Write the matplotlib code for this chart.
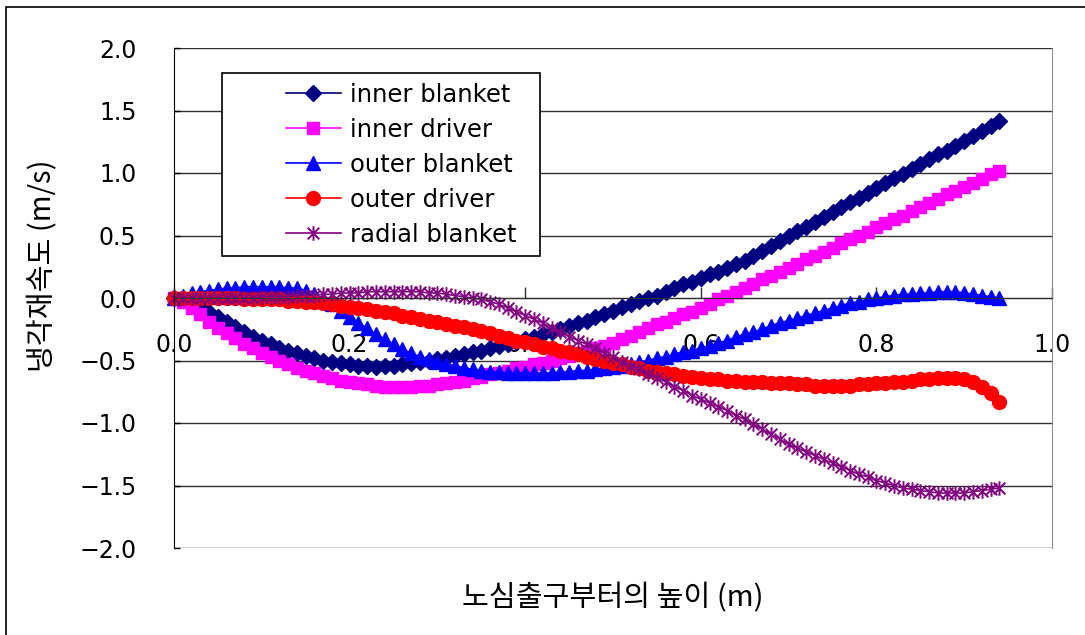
import numpy as np
import matplotlib
matplotlib.use('Agg')
import matplotlib.pyplot as plt
from matplotlib.path import Path
from matplotlib.patches import Rectangle

KFONT = ['Noto Sans CJK KR', 'DejaVu Sans']

# heights above core outlet (m), one sample every 0.01 m
height = np.round(np.arange(95) * 0.01, 2)

inner_blanket = [
    0.00, -0.01, -0.04, -0.07, -0.11, -0.15, -0.19, -0.23, -0.27, -0.31,
    -0.34, -0.37, -0.40, -0.42, -0.44, -0.46, -0.48, -0.50, -0.51, -0.52,
    -0.53, -0.54, -0.54, -0.55, -0.54, -0.54, -0.53, -0.52, -0.51, -0.50,
    -0.49, -0.48, -0.46, -0.45, -0.43, -0.42, -0.40, -0.38, -0.37, -0.35,
    -0.33, -0.31, -0.29, -0.27, -0.25, -0.22, -0.20, -0.18, -0.15, -0.13,
    -0.10, -0.07, -0.05, -0.02, 0.00, 0.02, 0.05, 0.08, 0.11, 0.13,
    0.16, 0.19, 0.21, 0.24, 0.27, 0.30, 0.34, 0.38, 0.42, 0.46,
    0.50, 0.54, 0.57, 0.61, 0.65, 0.69, 0.73, 0.77, 0.80, 0.84,
    0.88, 0.92, 0.96, 0.99, 1.03, 1.07, 1.11, 1.15, 1.18, 1.22,
    1.26, 1.30, 1.34, 1.38, 1.42]

inner_driver = [
    0.00, -0.03, -0.08, -0.13, -0.19, -0.24, -0.28, -0.32, -0.37, -0.40,
    -0.44, -0.47, -0.50, -0.53, -0.56, -0.58, -0.60, -0.62, -0.64, -0.66,
    -0.67, -0.68, -0.69, -0.70, -0.71, -0.71, -0.71, -0.71, -0.70, -0.70,
    -0.69, -0.68, -0.67, -0.66, -0.64, -0.63, -0.61, -0.60, -0.58, -0.56,
    -0.55, -0.53, -0.52, -0.50, -0.48, -0.46, -0.44, -0.42, -0.40, -0.38,
    -0.36, -0.33, -0.30, -0.27, -0.24, -0.21, -0.19, -0.16, -0.13, -0.11,
    -0.08, -0.05, -0.01, 0.02, 0.05, 0.08, 0.11, 0.15, 0.18, 0.21,
    0.24, 0.27, 0.31, 0.34, 0.37, 0.40, 0.44, 0.47, 0.50, 0.53,
    0.57, 0.60, 0.63, 0.66, 0.70, 0.73, 0.76, 0.79, 0.83, 0.86,
    0.89, 0.92, 0.95, 0.99, 1.02]

outer_blanket = [
    0.00, 0.02, 0.04, 0.05, 0.06, 0.07, 0.08, 0.08, 0.09, 0.09,
    0.09, 0.09, 0.09, 0.08, 0.08, 0.06, 0.03, -0.01, -0.05, -0.10,
    -0.15, -0.20, -0.24, -0.29, -0.33, -0.37, -0.41, -0.44, -0.47, -0.49,
    -0.51, -0.53, -0.54, -0.56, -0.57, -0.58, -0.59, -0.59, -0.60, -0.60,
    -0.60, -0.60, -0.60, -0.60, -0.59, -0.59, -0.58, -0.58, -0.57, -0.56,
    -0.55, -0.54, -0.53, -0.51, -0.50, -0.48, -0.47, -0.45, -0.43, -0.42,
    -0.40, -0.38, -0.36, -0.34, -0.31, -0.29, -0.27, -0.25, -0.22, -0.20,
    -0.18, -0.16, -0.14, -0.12, -0.10, -0.08, -0.06, -0.04, -0.03, -0.01,
    0.00, 0.01, 0.02, 0.03, 0.03, 0.04, 0.04, 0.05, 0.05, 0.05,
    0.04, 0.03, 0.02, 0.01, 0.00]

outer_driver = [
    0.00, 0.00, 0.00, 0.00, 0.00, 0.00, 0.00, 0.00, -0.01, -0.01,
    -0.01, -0.01, -0.01, -0.02, -0.02, -0.03, -0.03, -0.04, -0.05, -0.06,
    -0.07, -0.08, -0.09, -0.10, -0.11, -0.12, -0.14, -0.15, -0.17, -0.18,
    -0.19, -0.21, -0.22, -0.23, -0.25, -0.26, -0.28, -0.30, -0.32, -0.34,
    -0.35, -0.37, -0.39, -0.40, -0.42, -0.43, -0.45, -0.47, -0.49, -0.50,
    -0.52, -0.53, -0.55, -0.56, -0.58, -0.59, -0.60, -0.61, -0.62, -0.63,
    -0.64, -0.65, -0.65, -0.66, -0.66, -0.67, -0.67, -0.67, -0.68, -0.68,
    -0.68, -0.69, -0.69, -0.70, -0.70, -0.70, -0.70, -0.70, -0.69, -0.69,
    -0.68, -0.68, -0.67, -0.67, -0.66, -0.65, -0.65, -0.64, -0.64, -0.64,
    -0.65, -0.67, -0.71, -0.76, -0.83]

radial_blanket = [
    0.00, 0.00, 0.00, 0.00, 0.00, 0.00, 0.00, 0.00, 0.00, 0.00,
    0.01, 0.01, 0.01, 0.01, 0.02, 0.02, 0.02, 0.03, 0.03, 0.04,
    0.04, 0.04, 0.05, 0.05, 0.05, 0.05, 0.05, 0.05, 0.05, 0.04,
    0.04, 0.03, 0.02, 0.01, 0.00, -0.01, -0.03, -0.05, -0.08, -0.11,
    -0.14, -0.17, -0.20, -0.24, -0.27, -0.31, -0.34, -0.37, -0.40, -0.44,
    -0.47, -0.51, -0.54, -0.57, -0.61, -0.64, -0.67, -0.71, -0.74, -0.78,
    -0.81, -0.84, -0.87, -0.90, -0.94, -0.97, -1.01, -1.05, -1.09, -1.13,
    -1.17, -1.20, -1.23, -1.26, -1.29, -1.32, -1.35, -1.38, -1.41, -1.43,
    -1.46, -1.48, -1.50, -1.52, -1.53, -1.54, -1.55, -1.56, -1.56, -1.56,
    -1.56, -1.55, -1.54, -1.53, -1.52]

labels = ['inner blanket', 'inner driver', 'outer blanket', 'outer driver',
          'radial blanket']
x_ticks = [0.0, 0.2, 0.4, 0.6, 0.8, 1.0]
y_ticks = [-2.0, -1.5, -1.0, -0.5, 0.0, 0.5, 1.0, 1.5, 2.0]

# Excel-style star: x with a vertical bar
star = Path([(0, -1), (0, 1), (-0.8, -0.8), (0.8, 0.8), (-0.8, 0.8), (0.8, -0.8)],
            [Path.MOVETO, Path.LINETO, Path.MOVETO, Path.LINETO, Path.MOVETO, Path.LINETO])

styles = [
    dict(color='#000080', marker='D', ms=8.5),
    dict(color='#FF00FF', marker='s', ms=9),
    dict(color='#0000FF', marker='^', ms=10),
    dict(color='#FF0000', marker='o', ms=10),
    dict(color='#800080', marker=star, ms=10.5, mew=1.4, mfc='none'),
]

fig = plt.figure(figsize=(10.85, 6.35), dpi=100)
ax = fig.add_axes([174 / 1085, 87 / 635, 878 / 1085, 500 / 635])

series = [inner_blanket, inner_driver, outer_blanket, outer_driver, radial_blanket]
for vals, lab, st in zip(series, labels, styles):
    ax.plot(height, vals, lw=1.2, label=lab, clip_on=False, **st)

ax.set_xlim(0, 1.0)
ax.set_ylim(-2.0, 2.0)
ax.set_xticks(x_ticks)
ax.set_yticks(y_ticks)
ax.set_xticklabels([f'{v:.1f}' for v in x_ticks])
ax.set_yticklabels([f'{v:.1f}'.replace('-', '\u2212') for v in y_ticks])

ax.yaxis.grid(True, color='#303030', lw=1.0)
ax.set_axisbelow(True)

ax.spines['bottom'].set_position(('data', 0))
ax.spines['bottom'].set_color('#303030')
ax.spines['left'].set_color('black')
ax.spines['top'].set_visible(False)
ax.spines['right'].set_color('#909090')

ax.tick_params(axis='x', direction='in', length=8, width=1, pad=25,
               labelsize=17, colors='#303030', labelcolor='black')
ax.tick_params(axis='y', direction='in', length=4, width=1, pad=27,
               labelsize=17)

ax.set_xlabel('노심출구부터의 높이 (m)', family=KFONT, fontsize=21)
ax.xaxis.set_label_coords(0.5, -0.07)
fig.text(43 / 1085, 1 - 266 / 635, '냉각재속도 (m/s)', family=KFONT,
         fontsize=21, rotation=90, ha='center', va='center')

# legend box drawn by hand, entries placed inside it
ax.add_patch(Rectangle((0.0547, 0.584), 0.3623, 0.366, transform=ax.transAxes,
                       facecolor='white', edgecolor='black', lw=1.2, zorder=5))
leg = ax.legend(loc='upper left', bbox_to_anchor=(0.127, 0.93), frameon=False,
                fontsize=17.5, handlelength=2.3, handletextpad=0.35,
                labelspacing=0.45, borderpad=0, borderaxespad=0)
leg.set_zorder(6)

# chart area border (left and top edges visible)
fig.patches.append(Rectangle((6 / 1085, -0.2), 1.3, 0.2 + (635 - 6.5) / 635,
                             transform=fig.transFigure, fill=False,
                             edgecolor='black', lw=1.2))

fig.savefig('out.png', dpi=100)
